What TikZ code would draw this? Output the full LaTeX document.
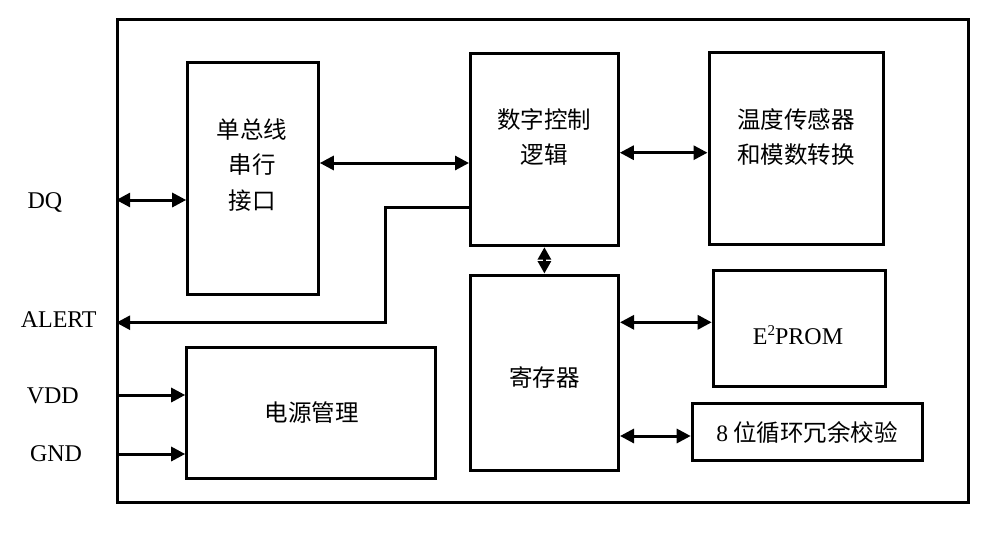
\documentclass[tikz,border=0pt]{standalone}
\usepackage{fontspec}
\setmainfont{Liberation Serif}
\newfontfamily\cjk{Noto Sans CJK SC}
\usetikzlibrary{arrows.meta}
\begin{document}
\begin{tikzpicture}[x=1pt,y=-1pt,
  blk/.style={draw, line width=3pt, rectangle, inner sep=0pt},
  txt/.style={font=\fontsize{23.5}{35.5}\selectfont\cjk, align=center, inner sep=0pt},
  lbl/.style={font=\fontsize{24}{28}\selectfont, inner sep=0pt},
  link/.style={line width=3pt},
  dbl/.style={link, {Triangle[length=14pt,width=14pt]}-{Triangle[length=14pt,width=14pt]}},
  one/.style={link, -{Triangle[length=14pt,width=14pt]}},
  shortdbl/.style={link, {Triangle[length=12.5pt,width=13pt]}-{Triangle[length=12.5pt,width=13pt]}},
]
\useasboundingbox (0,0) rectangle (1000,533);
\fill[white] (0,0) rectangle (1000,533);

% boxes
\node[blk, minimum width=850.6pt, minimum height=483.7pt] (outer) at (543,260.85) {};
\node[blk, minimum width=130.6pt, minimum height=231.3pt] (iface) at (253,178.35) {};
\node[blk, minimum width=147.8pt, minimum height=192.4pt] (logic) at (544.4,149.5) {};
\node[blk, minimum width=174.3pt, minimum height=191.7pt] (temp) at (796.15,148.15) {};
\node[blk, minimum width=148.2pt, minimum height=195.3pt] (reg) at (544.4,372.65) {};
\node[blk, minimum width=172.6pt, minimum height=116.7pt] (eprom) at (799.5,328.35) {};
\node[blk, minimum width=230.3pt, minimum height=57.4pt] (crc) at (807.35,432) {};
\node[blk, minimum width=249pt, minimum height=131.4pt] (power) at (311.2,413) {};

% texts
\node[txt] (ifacet) at (252,165) {单总线\\串行\\接口};
\node[txt] (logict) at (544,137) {数字控制\\逻辑};
\node[txt] (tempt) at (796,137) {温度传感器\\和模数转换};
\node[txt] (regt) at (544.5,377) {寄存器};
\node[lbl] (epromt) at (798,335) {E\raisebox{0.38em}{\fontsize{15}{15}\selectfont 2}PROM};
\node[txt] (crct) at (807,433) {{\rmfamily 8} 位循环冗余校验};
\node[txt] (powert) at (311.7,413) {电源管理};

% pin labels
\node[lbl] (dq) at (45,202) {DQ};
\node[lbl] (alert) at (58.7,320) {ALERT};
\node[lbl] (vdd) at (52.8,395.7) {VDD};
\node[lbl] (gnd) at (56,453.5) {GND};

% connectors
\draw[dbl] (outer.west |- 0,200) -- (iface.west |- 0,200);
\draw[dbl] (iface.east |- 0,163) -- (logic.west |- 0,163);
\draw[dbl] (logic.east |- 0,152.7) -- (temp.west |- 0,152.7);
\draw[shortdbl] (logic.south) -- (reg.north);
\draw[dbl] (reg.east |- 0,322.3) -- (eprom.west |- 0,322.3);
\draw[dbl] (reg.east |- 0,436) -- (crc.west |- 0,436);
\coordinate (b1) at (385,207.3);
\coordinate (b2) at (385,322.7);
\draw[one, line join=miter] (logic.west |- b1) -- (b1) -- (b2) -- (outer.west |- b2);
\draw[one] (outer.west |- 0,395) -- (power.west |- 0,395);
\draw[one] (outer.west |- 0,454) -- (power.west |- 0,454);
\end{tikzpicture}
\end{document}
